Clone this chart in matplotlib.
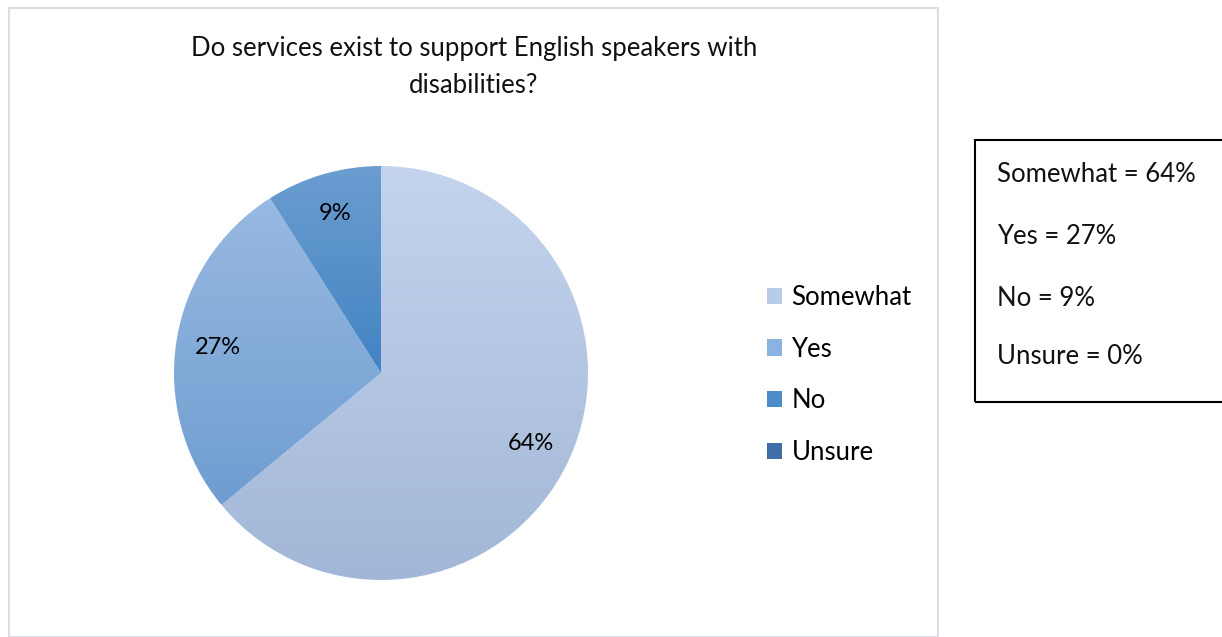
import numpy as np
import matplotlib
matplotlib.use("Agg")
import matplotlib.pyplot as plt
from matplotlib.colors import LinearSegmentedColormap
from matplotlib.patches import Patch, Rectangle

plt.rcParams['font.family'] = ['Lato', 'DejaVu Sans']

title = "Do services exist to support English speakers with\ndisabilities?"
categories = ["Somewhat", "Yes", "No", "Unsure"]
values = [64, 27, 9, 0]
# top / bottom colours of each slice's vertical gradient
top_colors = ["#c4d4ed", "#98b9e1", "#6b9dd0", "#4a78ad"]
bottom_colors = ["#a2b7d7", "#6f9dd1", "#4283c3", "#365f92"]
legend_colors = ["#b8cbe7", "#8bb2e0", "#4d8ccb", "#3d6ea5"]

W, H = 1222, 637
fig = plt.figure(figsize=(W / 100, H / 100), dpi=100)

# outer chart frame
fig.patches.append(Rectangle((9 / W, 0), (938 - 9) / W, (H - 8) / H,
                             transform=fig.transFigure, fill=False,
                             edgecolor="#d9dee5", linewidth=1.5))

fig.text(474 / W, 1 - 67 / H, title, ha="center", va="center",
         fontsize=18.5, linespacing=1.6, color="#111111")

# pie axes: centre (381, 373), radius 207 px
cx, cy, r = 381, 373, 207
ax = fig.add_axes([(cx - r) / W, (H - cy - r) / H, 2 * r / W, 2 * r / H])
wedges, _ = ax.pie(values, startangle=90, counterclock=False, radius=1,
                   wedgeprops=dict(linewidth=0))
ax.set_aspect("equal")
ax.axis("off")

for w, v, c0, c1 in zip(wedges, values, top_colors, bottom_colors):
    if v == 0:
        continue
    w.set_facecolor("none")
    ext = w.get_path().get_extents()
    cmap = LinearSegmentedColormap.from_list("g", [c0, c1])
    grad = np.linspace(0, 1, 256).reshape(-1, 1)
    im = ax.imshow(grad, cmap=cmap, aspect="auto",
                   extent=[ext.x0, ext.x1, ext.y0, ext.y1], origin="upper",
                   zorder=1)
    im.set_clip_path(w)

total = sum(values)
theta = 90
for v in values:
    span = v / total * 360
    if v > 0:
        mid = np.deg2rad(theta - span / 2)
        ax.text(0.8 * np.cos(mid), 0.8 * np.sin(mid), f"{v}%",
                ha="center", va="center", fontsize=17, zorder=3)
    theta -= span
ax.set_xlim(-1, 1)
ax.set_ylim(-1, 1)

handles = [Patch(facecolor=c, edgecolor="none") for c in legend_colors]
fig.legend(handles, categories, loc="center left",
           bbox_to_anchor=(767 / W, 1 - 375 / H), frameon=False,
           borderpad=0, borderaxespad=0,
           fontsize=18.5, handlelength=0.6, handleheight=0.6,
           handletextpad=0.35, labelspacing=1.04)

# summary box on the right
fig.patches.append(Rectangle((975 / W, 1 - 402 / H), (W - 975 + 5) / W,
                             (402 - 140) / H, transform=fig.transFigure,
                             fill=False, edgecolor="black", linewidth=1.5))
for i, (cat, v) in enumerate(zip(categories, values)):
    y = [175, 236, 298, 356][i]
    fig.text(997 / W, 1 - y / H, f"{cat} = {v}%", ha="left", va="center",
             fontsize=18.5, color="#111111")

fig.savefig("out.png", dpi=100)
